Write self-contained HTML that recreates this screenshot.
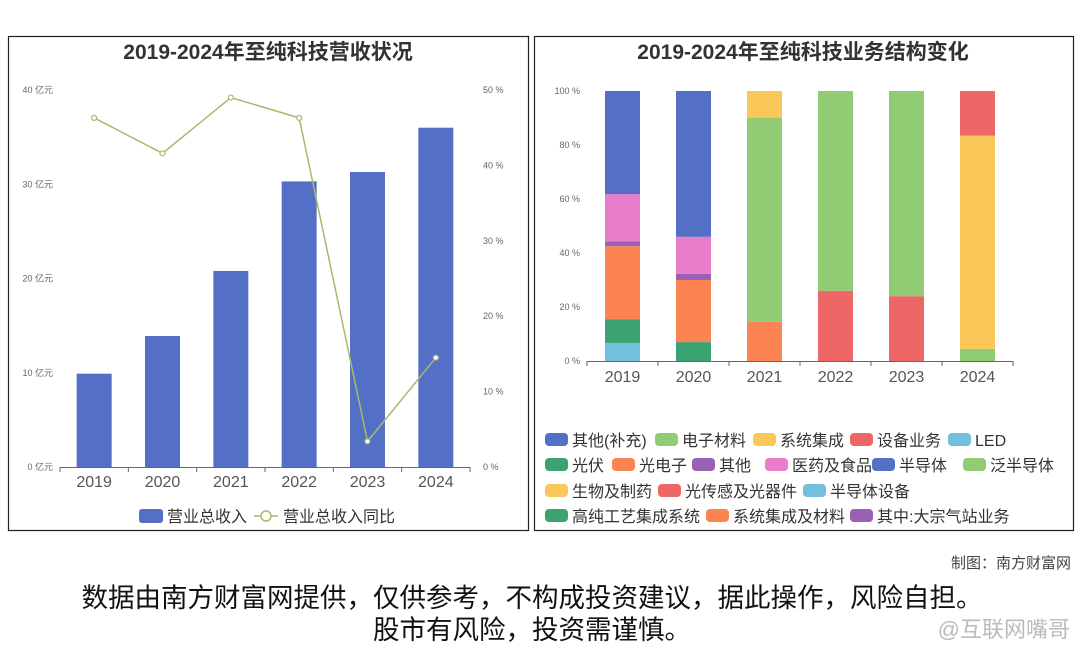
<!DOCTYPE html>
<html><head><meta charset="utf-8">
<style>
html,body{margin:0;padding:0;background:#fff;}
body{width:1080px;height:646px;overflow:hidden;position:relative;font-family:"Liberation Sans","Noto Sans CJK SC",sans-serif;}
svg text{font-family:"Liberation Sans","Noto Sans CJK SC",sans-serif;}
</style></head>
<body>
<svg id="root" width="1080" height="646" viewBox="0 0 1080 646" xmlns="http://www.w3.org/2000/svg">
  <rect x="8.5" y="36.5" width="520" height="494" fill="#fff" stroke="#222" stroke-width="1.2"/>
  <rect x="534.5" y="36.5" width="539" height="494" fill="#fff" stroke="#222" stroke-width="1.2"/>
  <text x="268" y="59" text-anchor="middle" font-size="21" font-weight="bold" fill="#333">2019-2024年至纯科技营收状况</text>
  <text x="803" y="59" text-anchor="middle" font-size="21" font-weight="bold" fill="#333">2019-2024年至纯科技业务结构变化</text>
  <g id="left"></g>
  <g id="right"></g>
  <text x="1071" y="568" text-anchor="end" font-size="15" fill="#444">制图：南方财富网</text>
  <text x="532" y="607" text-anchor="middle" font-size="26.5" fill="#111">数据由南方财富网提供，仅供参考，不构成投资建议，据此操作，风险自担。</text>
  <text x="532" y="639" text-anchor="middle" font-size="26.5" fill="#111">股市有风险，投资需谨慎。</text>
  <text x="1070" y="637" text-anchor="end" font-size="22" fill="#bbb">@互联网嘴哥</text>
</svg>
<script>
const NS="http://www.w3.org/2000/svg";
const years=["2019","2020","2021","2022","2023","2024"];
const revenue=[9.9,13.9,20.8,30.3,31.3,36.0];
const growth=[46.3,41.6,49.0,46.3,3.4,14.5];
const leftTicks=[0,10,20,30,40];
const rightTicks=[0,10,20,30,40,50];
const pctTicks=[0,20,40,60,80,100];
const seriesNames=["其他(补充)","电子材料","系统集成","设备业务","LED","光伏","光电子","其他","医药及食品","半导体","泛半导体","生物及制药","光传感及光器件","半导体设备","高纯工艺集成系统","系统集成及材料","其中:大宗气站业务"];
const seriesColors=["#5470c6","#91cc75","#fac858","#ee6666","#73c0de","#3ba272","#fc8452","#9a60b4","#ea7ccc","#5470c6","#91cc75","#fac858","#ee6666","#73c0de","#3ba272","#fc8452","#9a60b4"];
const s_led=[6.7,0,0,0,0,0];
const s_pv=[8.8,7,0,0,0,0];
const s_opto=[27,23,14.5,0,0,0];
const s_other=[1.8,2.3,0,0,0,0];
const s_med=[17.5,13.7,0,0,0,0];
const s_semi=[38.2,54,0,0,0,0];
const s_equip=[0,0,0,26,24,0];
const s_elec=[0,0,75.5,74,76,4.5];
const s_sys=[0,0,10,0,0,79];
const s_sensor=[0,0,0,0,0,16.5];
const stackOrder=[[4,s_led],[5,s_pv],[6,s_opto],[3,s_equip],[7,s_other],[8,s_med],[1,s_elec],[2,s_sys],[9,s_semi],[12,s_sensor]];

function el(tag,attrs,parent,txt){const e=document.createElementNS(NS,tag);for(const k in attrs)e.setAttribute(k,attrs[k]);if(txt!==undefined)e.textContent=txt;parent.appendChild(e);return e;}

// LEFT
const L=document.getElementById('left');
const lx0=60,lx1=470,ly0=467,ly1=90;
const band=(lx1-lx0)/years.length;
const xc=i=>lx0+band*(i+0.5);
const yL=v=>ly0-(v/40)*(ly0-ly1);
const yR=v=>ly0-(v/50)*(ly0-ly1);
leftTicks.forEach(t=>{const e=el('text',{x:53,y:yL(t)+3,'text-anchor':'end','font-size':9,fill:'#666'},L,t+' 亿元');

});
rightTicks.forEach(t=>{const e=el('text',{x:483,y:yR(t)+3,'font-size':9,fill:'#666'},L,t+' %');

});
revenue.forEach((v,i)=>{const r=el('rect',{x:xc(i)-17.5,y:yL(v),width:35,height:ly0-yL(v),fill:'#5470c6'},L);

});
const ax=el('line',{x1:lx0,x2:lx1,y1:ly0+0.5,y2:ly0+0.5,stroke:'#666'},L);


for(let i=0;i<=years.length;i++){const t=el('line',{x1:lx0+band*i,x2:lx0+band*i,y1:ly0,y2:ly0+5,stroke:'#666'},L);

}
years.forEach((y,i)=>{const t=el('text',{x:xc(i),y:487,'text-anchor':'middle','font-size':16,fill:'#555'},L,y);

});
const pl=el('polyline',{points:growth.map((v,i)=>xc(i)+','+yR(v)).join(' '),fill:'none',stroke:'#a9b86a','stroke-width':1.5},L);


growth.forEach((v,i)=>{const c=el('circle',{cx:xc(i),cy:yR(v),r:2.5,fill:'#fff',stroke:'#a9b86a','stroke-width':1.2},L);

});
const lg1=el('rect',{x:139,y:509,width:24,height:14,rx:3,fill:'#5470c6'},L);


const lt1=el('text',{x:167,y:522,'font-size':16,fill:'#333'},L,'营业总收入');


const ll=el('line',{x1:254,x2:278,y1:516,y2:516,stroke:'#a9b86a','stroke-width':1.5},L);


el('circle',{cx:266,cy:516,r:5,fill:'#fff',stroke:'#a9b86a','stroke-width':1.5},L);
const lt2=el('text',{x:283,y:522,'font-size':16,fill:'#333'},L,'营业总收入同比');



// RIGHT
const R=document.getElementById('right');
const rx0=587,rx1=1013,ry0=361,ry1=91;
const rb=(rx1-rx0)/years.length;
const rxc=i=>rx0+rb*(i+0.5);
const yP=v=>ry0-(v/100)*(ry0-ry1);
pctTicks.forEach(t=>{const e=el('text',{x:580,y:yP(t)+3,'text-anchor':'end','font-size':9,fill:'#666'},R,t+' %');

});
years.forEach((y,i)=>{let acc=0;stackOrder.forEach(([si,arr])=>{const v=arr[i];if(v>0){const r=el('rect',{x:rxc(i)-17.5,y:yP(acc+v),width:35,height:yP(acc)-yP(acc+v),fill:seriesColors[si]},R);


acc+=v;}});});
const ax2=el('line',{x1:rx0,x2:rx1,y1:ry0+0.5,y2:ry0+0.5,stroke:'#666'},R);


for(let i=0;i<=years.length;i++){const t=el('line',{x1:rx0+rb*i,x2:rx0+rb*i,y1:ry0,y2:ry0+5,stroke:'#666'},R);

}
years.forEach((y,i)=>{const t=el('text',{x:rxc(i),y:382,'text-anchor':'middle','font-size':16,fill:'#555'},R,y);

});
const legRows=[[0,1,2,3,4],[5,6,7,8,9,10],[11,12,13],[14,15,16]];
const legX=[[545,655,753,850,948],[545,612,692,765,872,963],[545,658,803],[545,706,850]];
const legY=[440,465,491,516];
legRows.forEach((row,ri)=>row.forEach((si,k)=>{
const r=el('rect',{x:legX[ri][k],y:legY[ri]-7,width:23,height:13,rx:4,fill:seriesColors[si]},R);


const t=el('text',{x:legX[ri][k]+27,y:legY[ri]+6,'font-size':16,fill:'#333'},R,seriesNames[si]);

}));
</script>
</body></html>
